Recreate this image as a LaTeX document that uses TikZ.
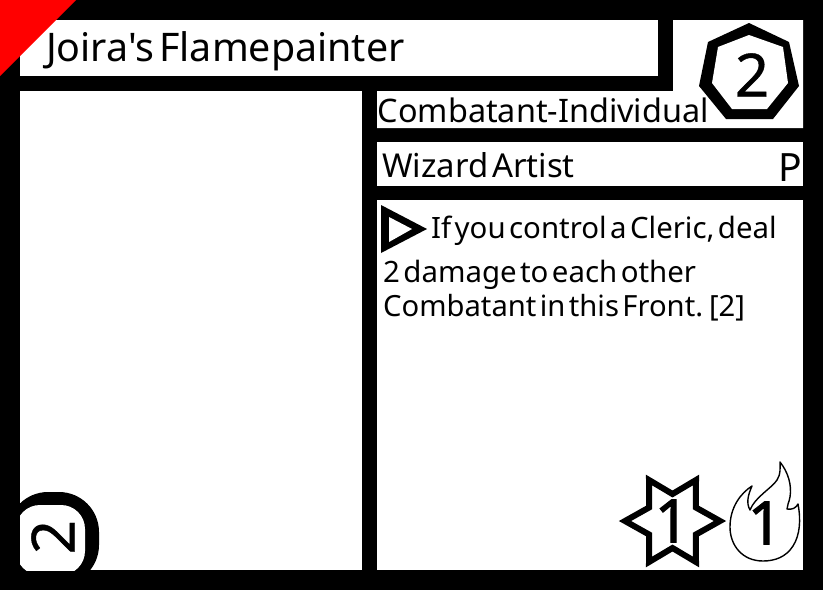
\documentclass[tikz,border=0pt]{standalone}
\usepackage{fontspec}
\setmainfont{Noto Sans}[WordSpace=0.45,Ligatures=TeXOff]
\tikzset{
 panel/.style={fill=white,draw=none},
 lbl/.style={inner sep=0pt,anchor=base west,text=black},
 num/.style={inner sep=0pt,anchor=center,font=\fontsize{60}{60}\selectfont\addfontfeatures{FakeBold=0.7}},
 numb/.style={inner sep=0pt,anchor=center,font=\fontsize{60}{60}\selectfont\addfontfeatures{FakeBold=1.8}},
 badge/.style={fill=black,draw=none},
 hole/.style={fill=white,draw=none}
}
\begin{document}
\begin{tikzpicture}[x=1pt,y=-1pt]
\useasboundingbox (0,0) rectangle (823,590);
\fill[black] (0,0) rectangle (823,590);
\fill[panel] (20,20) rectangle (658,76);
\fill[panel] (673,20) -- (803,20) -- (803,128) -- (377,128) -- (377,91) -- (673,91) -- cycle;
\fill[panel] (20,91) rectangle (362,570);
\fill[panel] (377,142) rectangle (803,186);
\fill[panel] (377,200) rectangle (803,570);
\fill[red] (0,0) -- (76,0) -- (0,76) -- cycle;
\node[lbl,font=\fontsize{39.4}{39}\selectfont] (title) at (46,61) {Joira's Flamepainter};
\node[lbl,font=\fontsize{32.4}{32}\selectfont] (type) at (377.5,122) {Combatant-Individual};
\node[lbl,font=\fontsize{32.9}{32}\selectfont] (sub) at (382,177) {Wizard Artist};
\node[lbl,font=\fontsize{39}{39}\selectfont,anchor=base east] (rar) at (802,181) {P};
\fill[badge] (749,23) -- (789,42) -- (799,86) -- (773,119) -- (726,119) -- (699,86) -- (708,42) -- cycle;
\fill[hole] (749,35) -- (783,47) -- (788,83) -- (767,109) -- (732,109) -- (712,83) -- (718,47) -- cycle;
\node[num] (cost) at (752,75) {2};
\fill[badge] (381,205) -- (427,229) -- (381,253) -- cycle;
\fill[hole] (389,217) -- (412,229) -- (389,242) -- cycle;
\node[lbl,font=\fontsize{29.4}{29}\selectfont] (l1) at (431,238) {If you control a Cleric, deal};
\node[lbl,font=\fontsize{29.4}{29}\selectfont] (l2) at (383,282) {2 damage to each other};
\node[lbl,font=\fontsize{29.2}{29}\selectfont] (l3) at (383,316) {Combatant in this Front. [2]};
\begin{scope}
\clip (0,470) rectangle (120,570);
\fill[badge,rounded corners=40pt] (8,492) rectangle (99,585);
\clip (20,470) rectangle (120,570);
\fill[hole,rounded corners=24pt] (16,505) rectangle (85,575);
\end{scope}
\node[num,rotate=90] (pow) at (53,537) {2};
\draw[line width=6pt,miter limit=10] (672.5,494) -- (696,480) -- (695.9,507.5) -- (720,521) -- (695.9,534.5) -- (696,562) -- (672.5,548) -- (649,562) -- (649.1,534.5) -- (625,521) -- (649.1,507.5) -- (649,480) -- cycle;
\node[numb] (atk) at (672,521) {1};
\draw[line width=1.4pt,line join=round] (763,561) .. controls (742,561) and (730,545) .. (730,527) .. controls (730,507) and (741,493) .. (752,486) .. controls (748,495) and (746,503) .. (750,510) .. controls (755,497) and (772,488) .. (777,480) .. controls (781,474) and (780,468) .. (780,462) .. controls (788,472) and (792,485) .. (790,497) .. controls (789,503) and (787,505) .. (787,509) .. controls (792,510) and (796,508) .. (798,504) .. controls (801,520) and (800,535) .. (793,546) .. controls (786,557) and (775,561) .. (763,561) -- cycle;
\node[numb] (hp) at (765,523) {1};
\end{tikzpicture}
\end{document}
